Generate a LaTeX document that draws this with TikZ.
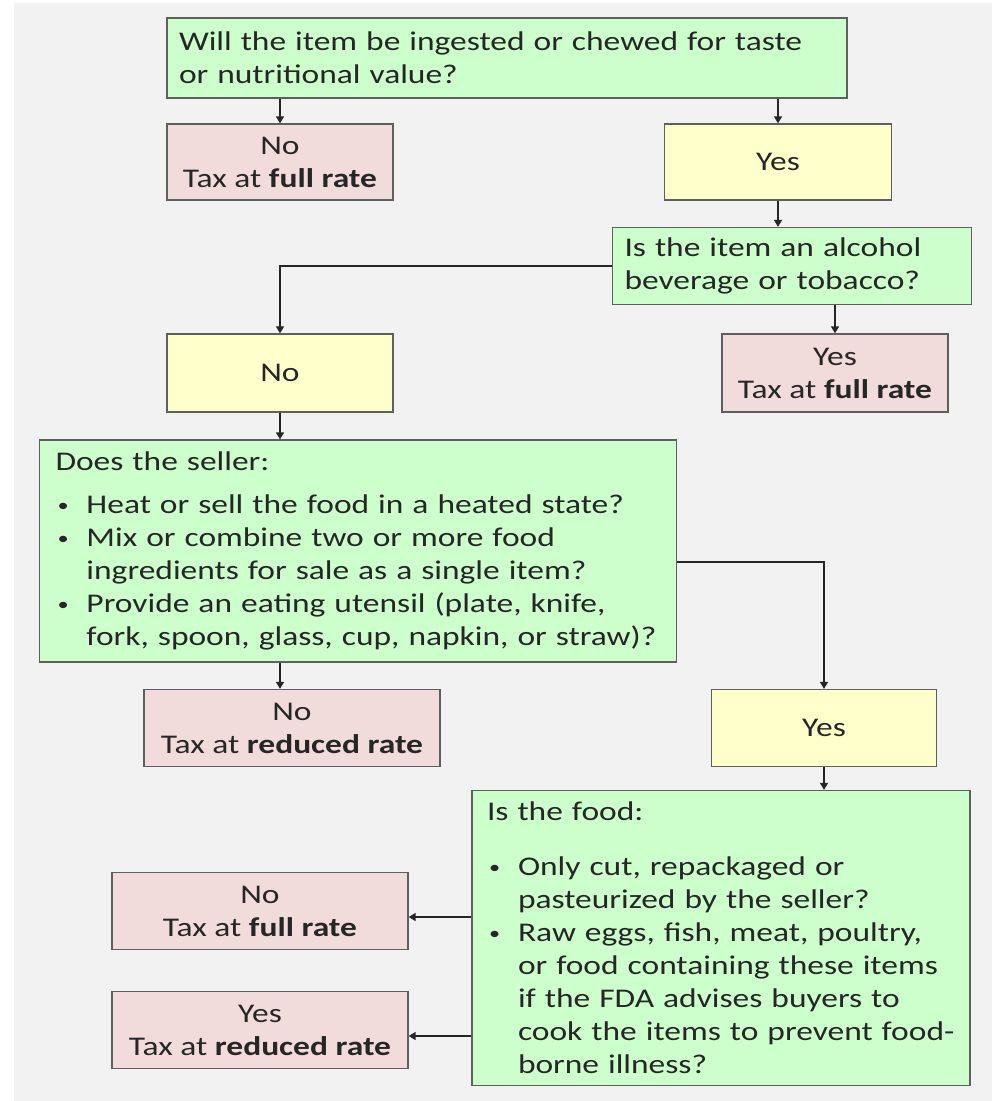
\documentclass[tikz,border=0pt]{standalone}
\usepackage{fontspec}
\setmainfont{Carlito}[FakeStretch=1.24]
\usepackage{tikz}
\usetikzlibrary{arrows.meta}

\definecolor{bggray}{HTML}{F2F2F2}
\definecolor{qgreen}{HTML}{CCFFCC}
\definecolor{npink}{HTML}{F2DCDB}
\definecolor{ayellow}{HTML}{FFFFCC}
\definecolor{edgegray}{HTML}{5F5F5F}
\definecolor{inkgray}{HTML}{262626}

\newcommand\fitem{\par\hangindent=31pt\hangafter=1\noindent
    \makebox[31pt][l]{\hspace{2pt}\raisebox{2pt}{\fontsize{18}{18}\selectfont\textbullet}}}

\begin{document}
\begin{tikzpicture}[x=1pt,y=-1pt,
    box/.style={draw=edgegray,line width=1.3pt,text=inkgray,
        font=\fontsize{27}{33}\selectfont,inner sep=0pt},
    question/.style={box,fill=qgreen,align=left},
    answer/.style={box,fill=ayellow,align=center},
    verdict/.style={box,fill=npink,align=center},
    arr/.style={draw=inkgray,line width=1.4pt,-{Triangle[width=8pt,length=7pt]}}]
    \useasboundingbox (0,0) rectangle (992,1101);
    \fill[bggray] (14,3) rectangle (992,1101);

    \node[question,minimum width=680,minimum height=80,text width=656] (ingest) at (507,58)
        {Will the item be ingested or chewed for taste\\or nutritional value?};
    \node[verdict,minimum width=226,minimum height=76] (nofull) at (280,162)
        {No\\Tax at \textbf{full rate}};
    \node[answer,minimum width=227,minimum height=76] (yesingest) at (778,162) {Yes};
    \node[question,minimum width=359,minimum height=77,text width=335] (alcohol) at (792,266)
        {Is the item an alcohol\\beverage or tobacco?};
    \node[verdict,minimum width=226,minimum height=78] (yesfull) at (835,373)
        {Yes\\Tax at \textbf{full rate}};
    \node[answer,minimum width=226,minimum height=78] (noalcohol) at (280,373) {No};
    \node[question,minimum width=637,minimum height=222,text width=605] (seller) at (358,551)
        {Does the seller:\par\vspace{10pt}
        \fitem Heat or sell the food in a heated state?
        \fitem Mix or combine two or more food\newline ingredients for sale as a single item?
        \fitem Provide an eating utensil (plate, knife,\newline fork, spoon, glass, cup, napkin, or straw)?\par};
    \node[verdict,minimum width=296,minimum height=77] (noreduced) at (292,728)
        {No\\Tax at \textbf{reduced rate}};
    \node[answer,minimum width=225,minimum height=77] (yesseller) at (824,728) {Yes};
    \node[question,minimum width=498,minimum height=295,text width=468] (food) at (721,938)
        {Is the food:\par\vspace{22pt}
        \fitem Only cut, repackaged or\newline pasteurized by the seller?
        \fitem Raw eggs, fish, meat, poultry,\newline or food containing these items\newline if the FDA advises buyers to\newline cook the items to prevent food-\newline borne illness?\par};
    \node[verdict,minimum width=296,minimum height=77] (nofood) at (260,911)
        {No\\Tax at \textbf{full rate}};
    \node[verdict,minimum width=296,minimum height=77] (yesfood) at (260,1030)
        {Yes\\Tax at \textbf{reduced rate}};
    \coordinate (nofoodin) at ([yshift=-6pt]nofood.east);
    \coordinate (yesfoodin) at ([yshift=-6pt]yesfood.east);

    \draw[arr] (nofull.north |- ingest.south) -- (nofull.north);
    \draw[arr] (yesingest.north |- ingest.south) -- (yesingest.north);
    \draw[arr] (yesingest.south) -- (yesingest.south |- alcohol.north);
    \draw[arr] (alcohol.west) -| (noalcohol.north);
    \draw[arr] (yesfull.north |- alcohol.south) -- (yesfull.north);
    \draw[arr] (noalcohol.south) -- (noalcohol.south |- seller.north);
    \draw[arr] ([yshift=-11pt]seller.east) -| (yesseller.north);
    \draw[arr] (noalcohol.south |- seller.south) -- (noalcohol.south |- noreduced.north);
    \draw[arr] (yesseller.south) -- (yesseller.south |- food.north);
    \draw[arr] (food.west |- nofoodin) -- (nofoodin);
    \draw[arr] (food.west |- yesfoodin) -- (yesfoodin);
\end{tikzpicture}
\end{document}
